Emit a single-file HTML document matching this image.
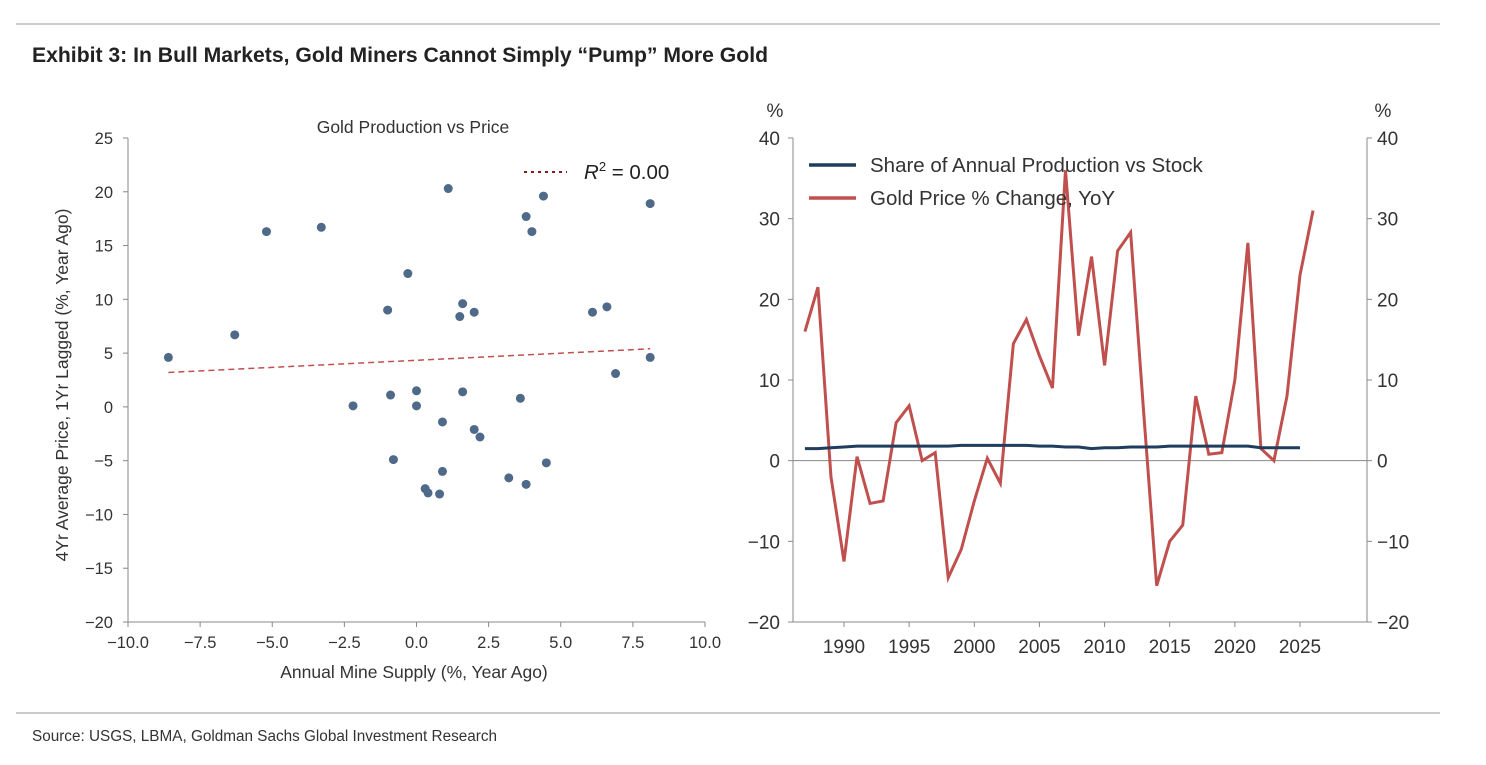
<!DOCTYPE html>
<html><head><meta charset="utf-8">
<style>
body{margin:0;background:#fff;width:1486px;height:760px;overflow:hidden;font-family:"Liberation Sans",sans-serif;}
</style></head>
<body>
<svg width="1486" height="760" viewBox="0 0 1486 760" xmlns="http://www.w3.org/2000/svg" font-family="Liberation Sans, sans-serif">
<line x1="16" y1="24" x2="1440" y2="24" stroke="#999" stroke-width="1"/>
<text x="32" y="62" font-size="21" font-weight="bold" fill="#222" textLength="736" lengthAdjust="spacingAndGlyphs">Exhibit 3: In Bull Markets, Gold Miners Cannot Simply “Pump” More Gold</text>
<line x1="16" y1="713" x2="1440" y2="713" stroke="#999" stroke-width="1"/>
<text x="32" y="741" font-size="15.5" fill="#333" textLength="465" lengthAdjust="spacingAndGlyphs">Source: USGS, LBMA, Goldman Sachs Global Investment Research</text>
<g id="left"></g>
<g id="right"></g>
</svg>
<script>
const scatterX=[-8.6,-6.3,-5.2,-3.3,-2.2,-1.0,-0.9,-0.8,-0.3,0.0,0.0,0.3,0.4,0.8,0.9,0.9,1.1,1.5,1.6,1.6,2.0,2.0,2.2,3.2,3.6,3.8,3.8,4.0,4.4,4.5,6.1,6.6,6.9,8.1,8.1];
const scatterY=[4.6,6.7,16.3,16.7,0.1,9.0,1.1,-4.9,12.4,1.5,0.1,-7.6,-8.0,-8.1,-6.0,-1.4,20.3,8.4,9.6,1.4,8.8,-2.1,-2.8,-6.6,0.8,-7.2,17.7,16.3,19.6,-5.2,8.8,9.3,3.1,18.9,4.6];
const trendX=[-8.6,8.1];
const trendY=[3.2,5.4];
const xTicks=[-10,-7.5,-5,-2.5,0,2.5,5,7.5,10];
const xTickLabels=["−10.0","−7.5","−5.0","−2.5","0.0","2.5","5.0","7.5","10.0"];
const yTicksL=[-20,-15,-10,-5,0,5,10,15,20,25];
const years=[1987,1988,1989,1990,1991,1992,1993,1994,1995,1996,1997,1998,1999,2000,2001,2002,2003,2004,2005,2006,2007,2008,2009,2010,2011,2012,2013,2014,2015,2016,2017,2018,2019,2020,2021,2022,2023,2024,2025,2026];
const goldPct=[16,21.5,-2,-12.5,0.5,-5.3,-5,4.7,6.8,0,1,-14.5,-11,-5,0.3,-2.8,14.5,17.5,13,9,36,15.5,25.3,11.8,26,28.3,6,-15.5,-10,-8,8,0.8,1,10,27,1.5,0,8,23,31];
const shareYears=[1987,1988,1989,1990,1991,1992,1993,1994,1995,1996,1997,1998,1999,2000,2001,2002,2003,2004,2005,2006,2007,2008,2009,2010,2011,2012,2013,2014,2015,2016,2017,2018,2019,2020,2021,2022,2023,2024,2025];
const shareVals=[1.5,1.5,1.6,1.7,1.8,1.8,1.8,1.8,1.8,1.8,1.8,1.8,1.9,1.9,1.9,1.9,1.9,1.9,1.8,1.8,1.7,1.7,1.5,1.6,1.6,1.7,1.7,1.7,1.8,1.8,1.8,1.8,1.8,1.8,1.8,1.6,1.6,1.6,1.6];
const yearTicks=[1990,1995,2000,2005,2010,2015,2020,2025];
const yTicksR=[-20,-10,0,10,20,30,40];

const NS="http://www.w3.org/2000/svg";
function mk(parent,tag,attrs,text){const e=document.createElementNS(NS,tag);for(const k in attrs)e.setAttribute(k,attrs[k]);if(text!==undefined)e.textContent=text;parent.appendChild(e);return e;}
const L=document.getElementById('left'), R=document.getElementById('right');
const sx=v=>128+(v+10)*(577/20);
const sy=v=>622-(v+20)*(484/45);
let e;
e=mk(L,'line',{x1:128,y1:138,x2:128,y2:622,stroke:'#888'});


e=mk(L,'line',{x1:128,y1:622,x2:705,y2:622,stroke:'#888'});


xTicks.forEach((t,i)=>{
 mk(L,'line',{x1:sx(t),y1:622,x2:sx(t),y2:627,stroke:'#888'});
 e=mk(L,'text',{x:sx(t),y:648,'font-size':16.5,fill:'#333','text-anchor':'middle'},xTickLabels[i]);
 
 
});
yTicksL.forEach(t=>{
 mk(L,'line',{x1:123,y1:sy(t),x2:128,y2:sy(t),stroke:'#888'});
 e=mk(L,'text',{x:113,y:sy(t)+6,'font-size':16.5,fill:'#333','text-anchor':'end'},t<0?'−'+(-t):String(t));
 
 
});
e=mk(L,'text',{x:414,y:678,'font-size':17.5,fill:'#333','text-anchor':'middle'},'Annual Mine Supply (%, Year Ago)');


e=mk(L,'text',{x:0,y:0,'font-size':17.5,fill:'#333','text-anchor':'middle',transform:'translate(68,385) rotate(-90)'},'4Yr Average Price, 1Yr Lagged (%, Year Ago)');


e=mk(L,'text',{x:413,y:133,'font-size':17.5,fill:'#333','text-anchor':'middle'},'Gold Production vs Price');


e=mk(L,'line',{x1:sx(trendX[0]),y1:sy(trendY[0]),x2:sx(trendX[1]),y2:sy(trendY[1]),stroke:'#c0504d','stroke-width':1.5,'stroke-dasharray':'6,4'});


scatterX.forEach((x,i)=>{
 e=mk(L,'circle',{cx:sx(x),cy:sy(scatterY[i]),r:4.5,fill:'#4f6a88'});
 
 
});
e=mk(L,'line',{x1:524,y1:172,x2:567,y2:172,stroke:'#8b1a1a','stroke-width':2,'stroke-dasharray':'3,4'});


e=mk(L,'text',{x:584,y:179,'font-size':20.5,fill:'#222'},'');


mk(e,'tspan',{'font-style':'italic'},'R');
mk(e,'tspan',{dy:-8,'font-size':13},'2');
mk(e,'tspan',{dy:8},' = 0.00');

const rx=y=>844+(y-1990)*(456/35);
const ry=v=>622-(v+20)*(484/60);
e=mk(R,'line',{x1:793,y1:138,x2:793,y2:622,stroke:'#888'});


e=mk(R,'line',{x1:1367,y1:138,x2:1367,y2:622,stroke:'#888'});


e=mk(R,'line',{x1:793,y1:622,x2:1367,y2:622,stroke:'#888'});


e=mk(R,'line',{x1:793,y1:ry(0),x2:1367,y2:ry(0),stroke:'#888'});


yTicksR.forEach(t=>{
 const lab=t<0?'−'+(-t):String(t);
 mk(R,'line',{x1:788,y1:ry(t),x2:793,y2:ry(t),stroke:'#888'});
 mk(R,'line',{x1:1367,y1:ry(t),x2:1372,y2:ry(t),stroke:'#888'});
 e=mk(R,'text',{x:780,y:ry(t)+7,'font-size':19,fill:'#333','text-anchor':'end'},lab);
 
 
 e=mk(R,'text',{x:1377,y:ry(t)+7,'font-size':19,fill:'#333'},lab);
 
 
});
yearTicks.forEach(t=>{
 mk(R,'line',{x1:rx(t),y1:622,x2:rx(t),y2:627,stroke:'#888'});
 e=mk(R,'text',{x:rx(t),y:653,'font-size':19,fill:'#333','text-anchor':'middle'},String(t));
 
 
});
e=mk(R,'text',{x:775,y:117,'font-size':19,fill:'#333','text-anchor':'middle'},'%');


e=mk(R,'text',{x:1383,y:117,'font-size':19,fill:'#333','text-anchor':'middle'},'%');


e=mk(R,'polyline',{points:goldPct.map((v,i)=>rx(years[i])+','+ry(v)).join(' '),fill:'none',stroke:'#c0504d','stroke-width':3,'stroke-linejoin':'miter'});


e=mk(R,'polyline',{points:shareVals.map((v,i)=>rx(shareYears[i])+','+ry(v)).join(' '),fill:'none',stroke:'#1f3d5c','stroke-width':3});


e=mk(R,'line',{x1:809,y1:165,x2:856,y2:165,stroke:'#1f3d5c','stroke-width':3.5});


e=mk(R,'text',{x:870,y:172,'font-size':20.5,fill:'#333'},'Share of Annual Production vs Stock');


e=mk(R,'line',{x1:809,y1:198,x2:856,y2:198,stroke:'#c0504d','stroke-width':3.5});


e=mk(R,'text',{x:870,y:205,'font-size':20.5,fill:'#333'},'Gold Price % Change, YoY');


</script>
</body></html>
